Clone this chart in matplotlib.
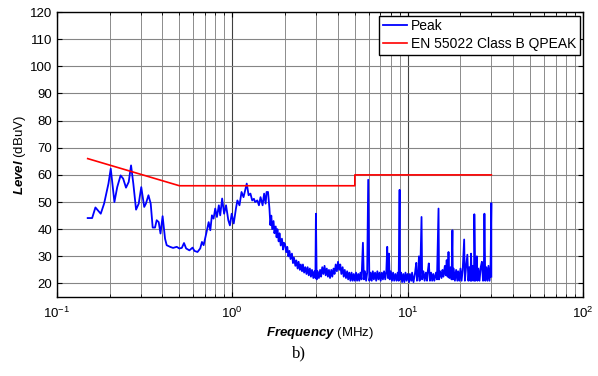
import numpy as np
import matplotlib.pyplot as plt
from matplotlib.ticker import LogLocator, NullFormatter

plt.rcParams['font.family'] = ['Liberation Sans', 'DejaVu Sans']
plt.rcParams['mathtext.fontset'] = 'custom'
plt.rcParams['mathtext.rm'] = 'Liberation Sans'
plt.rcParams['mathtext.bfit'] = 'Liberation Sans:bold:italic'

# measured peak trace, 0.15 - 2 MHz
low_freq = [0.150, 0.159, 0.166, 0.178, 0.186, 0.197, 0.203, 0.213, 0.221, 0.231,
            0.239, 0.248, 0.257, 0.265, 0.273, 0.283, 0.293, 0.303, 0.315, 0.322,
            0.333, 0.343, 0.352, 0.363, 0.371, 0.381, 0.390, 0.401, 0.414, 0.423,
            0.442, 0.460, 0.483, 0.499, 0.516, 0.531, 0.546, 0.570, 0.594, 0.609,
            0.634, 0.657, 0.672, 0.687, 0.711, 0.734, 0.750, 0.766, 0.783, 0.800,
            0.818, 0.839, 0.854, 0.876, 0.899, 0.922, 0.950, 0.970, 0.993, 1.02,
            1.05, 1.07, 1.10, 1.13, 1.16, 1.19, 1.21, 1.24, 1.27, 1.30,
            1.33, 1.35, 1.39, 1.42, 1.45, 1.49, 1.52, 1.55, 1.57, 1.60,
            1.63, 1.65, 1.67, 1.69, 1.72, 1.74, 1.77, 1.79, 1.81, 1.84,
            1.86, 1.89, 1.92, 1.95, 1.97]
low_level = [44.1, 44.1, 48.0, 45.7, 49.4, 56.8, 62.3, 50.0, 55.5, 59.8,
             58.6, 55.3, 57.4, 63.5, 56.8, 47.2, 49.4, 55.5, 48.2, 49.4,
             52.5, 49.4, 40.6, 40.6, 43.3, 42.6, 38.4, 44.8, 36.5, 34.1,
             33.5, 33.1, 33.5, 32.9, 33.1, 34.9, 32.9, 32.2, 33.2, 32.0,
             31.6, 32.9, 35.3, 34.1, 38.4, 42.6, 39.6, 45.1, 43.9, 47.6,
             44.5, 48.8, 45.1, 51.3, 45.7, 48.8, 43.3, 41.4, 45.7, 42.1,
             47.6, 50.6, 48.8, 53.7, 51.8, 54.9, 56.8, 52.5, 53.1, 50.6,
             51.2, 50.0, 50.6, 48.8, 51.8, 48.8, 53.1, 49.4, 53.7, 53.7,
             47.6, 41.5, 45.0, 40.0, 43.0, 38.5, 41.0, 37.0, 40.0, 35.5,
             38.5, 34.0, 36.5, 32.5, 35.0]

# measured peak trace, 2 - 30 MHz: noise floor with harmonic spikes (MHz, dBuV)
floor_points = [
    (2.00, 34.5), (2.03, 31.5), (2.06, 33.5), (2.09, 30.0), (2.12, 32.0), (2.15, 29.0),
    (2.19, 31.0), (2.22, 27.5), (2.25, 29.5), (2.29, 26.5), (2.32, 28.5), (2.36, 25.5),
    (2.39, 28.0), (2.43, 25.0), (2.46, 27.0), (2.50, 24.5), (2.53, 27.0), (2.57, 24.0),
    (2.61, 26.0), (2.65, 23.5), (2.69, 26.0), (2.73, 23.0), (2.77, 25.5), (2.81, 22.5),
    (2.85, 25.0), (2.90, 22.0), (2.94, 24.5), (2.98, 22.0), (3.00, 45.7), (3.03, 21.5),
    (3.07, 24.5), (3.12, 22.0), (3.17, 25.0), (3.21, 22.5), (3.26, 26.0), (3.31, 23.5),
    (3.36, 26.5), (3.41, 23.0), (3.46, 25.5), (3.51, 22.5), (3.56, 25.0), (3.61, 22.0),
    (3.67, 25.0), (3.72, 22.5), (3.78, 25.5), (3.83, 23.5), (3.89, 27.0), (3.95, 24.5),
    (4.01, 28.0), (4.07, 25.0), (4.13, 27.0), (4.19, 23.5), (4.26, 26.0), (4.32, 22.5),
    (4.38, 25.0), (4.45, 22.0), (4.52, 24.5), (4.58, 21.5), (4.65, 24.0), (4.72, 21.0),
    (4.79, 24.0), (4.86, 21.0), (4.93, 23.5), (5.00, 21.0), (5.08, 24.0), (5.15, 21.0),
    (5.23, 23.5), (5.30, 21.0), (5.38, 24.0), (5.46, 21.5), (5.56, 35.0), (5.63, 21.5),
    (5.71, 24.5), (5.80, 21.0), (5.88, 24.0), (5.96, 58.2), (6.05, 21.0), (6.15, 24.0),
    (6.24, 21.0), (6.33, 24.5), (6.42, 21.5), (6.52, 24.0), (6.62, 21.0), (6.72, 24.5),
    (6.82, 21.5), (6.92, 24.0), (7.02, 21.0), (7.13, 24.0), (7.23, 21.5), (7.34, 24.5),
    (7.45, 21.5), (7.56, 24.5), (7.65, 33.5), (7.72, 22.0), (7.82, 31.0), (7.90, 21.5),
    (8.02, 24.5), (8.14, 21.0), (8.26, 24.0), (8.38, 21.0), (8.51, 23.5), (8.64, 21.0),
    (8.77, 24.0), (8.89, 21.0), (9.00, 54.5), (9.05, 21.5), (9.17, 24.0), (9.30, 20.5),
    (9.44, 23.5), (9.58, 20.5), (9.72, 24.0), (9.87, 21.0), (10.0, 23.5), (10.2, 20.5),
    (10.3, 23.5), (10.5, 21.0), (10.6, 24.0), (10.8, 20.5), (11.0, 23.5), (11.2, 27.6),
    (11.3, 21.0), (11.5, 24.0), (11.6, 30.0), (11.7, 21.0), (11.8, 23.5), (12.0, 44.5),
    (12.1, 21.5), (12.3, 24.5), (12.5, 21.0), (12.7, 24.0), (12.9, 21.0), (13.0, 24.0),
    (13.2, 27.4), (13.4, 21.0), (13.6, 24.0), (13.8, 21.0), (14.0, 23.5), (14.2, 21.0),
    (14.5, 24.0), (14.7, 21.5), (15.0, 47.6), (15.1, 21.5), (15.3, 24.5), (15.6, 22.0),
    (15.8, 25.0), (16.0, 22.5), (16.3, 26.5), (16.5, 23.0), (16.7, 28.6), (16.9, 22.5),
    (17.1, 31.6), (17.3, 22.0), (17.6, 26.0), (17.8, 21.5), (18.0, 39.6), (18.1, 21.5),
    (18.3, 25.5), (18.6, 21.0), (18.9, 25.0), (19.2, 21.0), (19.4, 24.5), (19.7, 21.0),
    (20.0, 25.5), (20.3, 21.0), (20.6, 25.0), (21.0, 36.2), (21.2, 21.0), (21.5, 25.5),
    (21.9, 30.6), (22.2, 21.0), (22.5, 26.0), (22.8, 21.0), (23.0, 31.0), (23.2, 21.0),
    (23.5, 26.5), (23.9, 21.0), (24.0, 45.5), (24.3, 21.0), (24.6, 26.0), (24.8, 30.0),
    (25.0, 21.0), (25.3, 25.5), (25.7, 21.0), (26.1, 26.0), (26.5, 28.0), (26.9, 21.0),
    (27.2, 25.0), (27.4, 45.7), (27.7, 21.0), (28.1, 26.0), (28.5, 21.0), (28.9, 26.5),
    (29.3, 21.0), (29.7, 26.0), (30.0, 49.6), (30.0, 22.5),
]

# EN 55022 class B quasi-peak limit
limit_freq = [0.15, 0.5, 5.0, 5.0, 30.0]
limit_level = [66, 56, 56, 60, 60]

high_freq = [p[0] for p in floor_points]
high_level = [p[1] for p in floor_points]
freq_mhz = np.array(low_freq + high_freq)
peak_dbuv = np.array(low_level + high_level)

fig = plt.figure(figsize=(5.98, 3.76), dpi=100)
ax = fig.add_axes([0.095, 0.21, 0.88, 0.758])

ax.plot(freq_mhz, peak_dbuv, color='#0000ff', lw=1.3, label='Peak')
ax.plot(limit_freq, limit_level, color='#ff0000', lw=1.2, label='EN 55022 Class B QPEAK')

ax.set_xscale('log')
ax.set_xlim(0.1, 100)
ax.set_ylim(15, 120)
ax.set_yticks(np.arange(20, 121, 10))
ax.xaxis.set_minor_locator(LogLocator(base=10, subs=np.arange(2, 10), numticks=20))
ax.xaxis.set_minor_formatter(NullFormatter())

ax.grid(True, which='major', axis='x', color='#404040', lw=0.8)
ax.grid(True, which='major', axis='y', color='#858585', lw=0.8)
ax.grid(True, which='minor', axis='x', color='#8c8c8c', lw=0.7)
ax.set_axisbelow(True)

ax.tick_params(which='both', direction='in', top=True, right=True, labelsize=9.5)
ax.tick_params(axis='x', which='major', pad=6)
ax.tick_params(which='major', length=3.5)
ax.tick_params(which='minor', length=2)
for s in ax.spines.values():
    s.set_linewidth(1.0)

ax.set_xlabel(r'$\mathbfit{Frequency}$ (MHz)', fontsize=9.5, labelpad=3)
ax.set_ylabel(r'$\mathbfit{Level}$ (dBuV)', fontsize=9.5, labelpad=1)

leg = ax.legend(loc='upper right', fontsize=10, fancybox=False, framealpha=1,
                edgecolor='black', borderaxespad=0.25, handlelength=1.7,
                borderpad=0.25, labelspacing=0.3, handletextpad=0.3)
leg.get_frame().set_linewidth(1.0)

fig.text(0.5, 0.06, 'b)', family='Liberation Serif', fontsize=12, ha='center', va='center')

fig.savefig('out.png', dpi=100)
